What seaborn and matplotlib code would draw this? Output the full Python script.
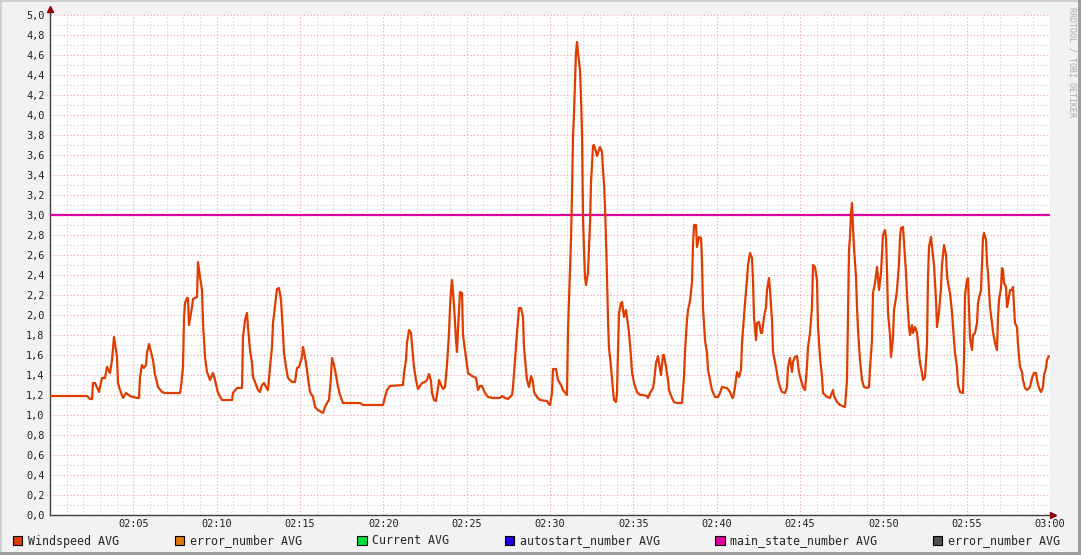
import matplotlib
matplotlib.use("Agg")
import matplotlib.pyplot as plt
from matplotlib.patches import Patch, Rectangle
import pandas as pd
import seaborn as sns

# Windspeed AVG: minutes after 02:00 and value
minutes = [0.00, 2.22, 2.40, 2.52, 2.58, 2.70, 2.94, 3.12, 3.30, 3.42, 3.60, 3.72, 3.84, 4.02, 4.08,
           4.20, 4.38, 4.56, 4.80, 5.22, 5.34, 5.40, 5.52, 5.64, 5.76, 5.82, 5.94, 6.06, 6.18, 6.30,
           6.42, 6.48, 6.72, 6.90, 7.80, 7.86, 7.98, 8.04, 8.10, 8.22, 8.28, 8.34, 8.52, 8.58, 8.82,
           8.88, 9.00, 9.12, 9.18, 9.30, 9.42, 9.60, 9.78, 9.90, 10.08, 10.32, 10.92, 10.98, 11.22,
           11.52, 11.58, 11.70, 11.82, 11.88, 12.00, 12.12, 12.18, 12.30, 12.48, 12.60, 12.72, 12.84,
           12.96, 13.08, 13.20, 13.32, 13.38, 13.62, 13.74, 13.86, 13.98, 14.04, 14.16, 14.28, 14.52,
           14.70, 14.82, 14.94, 15.12, 15.18, 15.30, 15.42, 15.48, 15.60, 15.78, 15.90, 16.08, 16.38,
           16.50, 16.62, 16.74, 16.86, 16.92, 17.04, 17.16, 17.28, 17.40, 17.58, 18.60, 18.78, 19.98,
           20.10, 20.22, 20.40, 21.18, 21.24, 21.36, 21.42, 21.54, 21.66, 21.72, 21.84, 21.96, 22.08,
           22.32, 22.50, 22.62, 22.74, 22.86, 22.92, 23.04, 23.16, 23.28, 23.34, 23.46, 23.58, 23.70,
           23.82, 23.94, 24.00, 24.06, 24.12, 24.24, 24.36, 24.42, 24.48, 24.60, 24.72, 24.78, 24.90,
           25.02, 25.08, 25.32, 25.56, 25.68, 25.80, 25.92, 26.10, 26.28, 26.58, 27.00, 27.12, 27.30,
           27.48, 27.72, 27.78, 27.90, 28.02, 28.14, 28.26, 28.38, 28.44, 28.56, 28.62, 28.74, 28.86,
           28.98, 29.04, 29.22, 29.40, 29.82, 29.88, 30.00, 30.12, 30.18, 30.36, 30.48, 30.66, 30.78,
           31.02, 31.08, 31.14, 31.26, 31.32, 31.38, 31.44, 31.50, 31.56, 31.62, 31.68, 31.80, 31.86,
           31.92, 31.98, 32.04, 32.10, 32.16, 32.28, 32.34, 32.40, 32.46, 32.52, 32.58, 32.64, 32.76,
           32.82, 32.94, 33.00, 33.12, 33.18, 33.24, 33.30, 33.36, 33.42, 33.48, 33.54, 33.66, 33.78,
           33.84, 33.96, 34.02, 34.08, 34.14, 34.26, 34.32, 34.44, 34.56, 34.62, 34.74, 34.86, 34.92,
           35.04, 35.22, 35.40, 35.58, 35.82, 35.88, 36.00, 36.18, 36.24, 36.36, 36.48, 36.54, 36.66,
           36.78, 36.84, 36.96, 37.08, 37.14, 37.32, 37.44, 37.62, 37.92, 38.04, 38.10, 38.22, 38.28,
           38.40, 38.52, 38.58, 38.64, 38.76, 38.82, 38.94, 39.06, 39.12, 39.18, 39.30, 39.42, 39.48,
           39.60, 39.72, 39.90, 40.08, 40.20, 40.32, 40.62, 40.80, 40.92, 40.98, 41.10, 41.22, 41.34,
           41.46, 41.52, 41.64, 41.70, 41.82, 41.88, 42.00, 42.12, 42.18, 42.24, 42.36, 42.42, 42.54,
           42.66, 42.72, 42.84, 42.96, 43.02, 43.14, 43.20, 43.32, 43.38, 43.50, 43.62, 43.68, 43.80,
           43.92, 44.10, 44.22, 44.28, 44.40, 44.52, 44.58, 44.70, 44.82, 44.94, 45.06, 45.18, 45.30,
           45.42, 45.48, 45.60, 45.72, 45.78, 45.90, 46.02, 46.08, 46.20, 46.32, 46.38, 46.62, 46.80,
           46.98, 47.04, 47.22, 47.40, 47.70, 47.82, 47.88, 47.94, 48.00, 48.06, 48.12, 48.18, 48.24,
           48.36, 48.42, 48.48, 48.60, 48.72, 48.84, 49.02, 49.14, 49.20, 49.32, 49.38, 49.50, 49.62,
           49.68, 49.74, 49.86, 49.92, 49.98, 50.10, 50.16, 50.22, 50.28, 50.40, 50.46, 50.58, 50.64,
           50.76, 50.82, 50.94, 51.00, 51.06, 51.18, 51.24, 51.36, 51.42, 51.54, 51.60, 51.72, 51.78,
           51.90, 52.02, 52.08, 52.20, 52.32, 52.38, 52.50, 52.62, 52.68, 52.74, 52.86, 52.92, 53.04,
           53.10, 53.16, 53.22, 53.34, 53.46, 53.52, 53.58, 53.64, 53.76, 53.82, 53.88, 54.00, 54.12,
           54.18, 54.30, 54.42, 54.48, 54.60, 54.78, 54.84, 54.90, 55.02, 55.08, 55.14, 55.20, 55.32,
           55.38, 55.50, 55.62, 55.68, 55.74, 55.86, 55.98, 56.04, 56.16, 56.22, 56.28, 56.40, 56.52,
           56.58, 56.70, 56.82, 56.88, 56.94, 57.06, 57.12, 57.18, 57.24, 57.36, 57.42, 57.48, 57.60,
           57.72, 57.78, 57.84, 57.90, 58.02, 58.08, 58.20, 58.32, 58.38, 58.50, 58.62, 58.80, 58.92,
           59.04, 59.16, 59.22, 59.34, 59.46, 59.58, 59.64, 59.76, 59.82, 59.94]

windspeed = [1.19, 1.19, 1.16, 1.16, 1.32, 1.32, 1.23, 1.37, 1.37, 1.48, 1.42, 1.55, 1.78, 1.58, 1.32,
             1.25, 1.17, 1.22, 1.19, 1.17, 1.17, 1.38, 1.50, 1.47, 1.50, 1.62, 1.71, 1.63, 1.55, 1.40,
             1.33, 1.28, 1.23, 1.22, 1.22, 1.28, 1.48, 1.97, 2.12, 2.17, 2.17, 1.90, 2.08, 2.16, 2.18,
             2.53, 2.38, 2.25, 1.92, 1.58, 1.43, 1.35, 1.42, 1.35, 1.22, 1.15, 1.15, 1.22, 1.27,
             1.27, 1.78, 1.95, 2.02, 1.88, 1.65, 1.52, 1.38, 1.33, 1.25, 1.23, 1.30, 1.32,
             1.28, 1.25, 1.48, 1.68, 1.92, 2.26, 2.27, 2.15, 1.82, 1.62, 1.48, 1.37, 1.33,
             1.33, 1.47, 1.48, 1.58, 1.68, 1.58, 1.45, 1.37, 1.23, 1.18, 1.08, 1.05, 1.02,
             1.08, 1.12, 1.15, 1.38, 1.57, 1.50, 1.40, 1.28, 1.20, 1.12, 1.12, 1.10, 1.10,
             1.18, 1.25, 1.29, 1.30, 1.42, 1.55, 1.72, 1.85, 1.82, 1.70, 1.48, 1.35, 1.26,
             1.32, 1.33, 1.35, 1.41, 1.34, 1.22, 1.15, 1.14, 1.27, 1.35, 1.30, 1.26, 1.28,
             1.50, 1.82, 2.07, 2.25, 2.35, 2.10, 1.75, 1.63, 1.85, 2.23, 2.22, 1.80, 1.65,
             1.50, 1.42, 1.39, 1.37, 1.25, 1.29, 1.29, 1.22, 1.18, 1.17, 1.17, 1.19, 1.17,
             1.16, 1.20, 1.28, 1.55, 1.82, 2.07, 2.07, 1.98, 1.68, 1.45, 1.35, 1.28, 1.39,
             1.33, 1.23, 1.18, 1.15, 1.14, 1.12, 1.10, 1.22, 1.46, 1.46, 1.35, 1.30, 1.25,
             1.20, 1.85, 2.15, 2.75, 3.22, 3.78, 4.02, 4.33, 4.63, 4.73, 4.63, 4.45, 4.18,
             3.82, 2.98, 2.65, 2.38, 2.30, 2.42, 2.68, 2.90, 3.32, 3.50, 3.69, 3.70, 3.63,
             3.59, 3.65, 3.68, 3.63, 3.45, 3.32, 3.08, 2.75, 2.38, 1.95, 1.67, 1.48, 1.25,
             1.15, 1.13, 1.22, 1.65, 2.02, 2.12, 2.13, 1.98, 2.05, 1.98, 1.82, 1.58, 1.43,
             1.32, 1.23, 1.20, 1.20, 1.19, 1.17, 1.22, 1.27, 1.33, 1.52, 1.59, 1.52, 1.40,
             1.60, 1.60, 1.48, 1.35, 1.25, 1.17, 1.13, 1.12, 1.12, 1.38, 1.63, 1.95, 2.05,
             2.14, 2.33, 2.70, 2.90, 2.90, 2.68, 2.78, 2.77, 2.55, 2.07, 1.75, 1.62, 1.45,
             1.35, 1.25, 1.18, 1.18, 1.22, 1.28, 1.27, 1.23, 1.18, 1.17, 1.28, 1.43, 1.38,
             1.45, 1.72, 1.98, 2.12, 2.35, 2.50, 2.62, 2.57, 2.35, 1.98, 1.75, 1.92, 1.93,
             1.82, 1.82, 1.98, 2.08, 2.25, 2.37, 2.25, 1.95, 1.63, 1.53, 1.42, 1.35, 1.28,
             1.23, 1.22, 1.28, 1.48, 1.57, 1.43, 1.53, 1.58, 1.59, 1.43, 1.35, 1.28, 1.25,
             1.48, 1.68, 1.82, 2.08, 2.50, 2.48, 2.35, 1.88, 1.58, 1.38, 1.22, 1.18, 1.17,
             1.25, 1.19, 1.13, 1.10, 1.08, 1.35, 2.02, 2.65, 2.78, 3.02, 3.12, 2.88, 2.67,
             2.38, 2.08, 1.85, 1.55, 1.35, 1.28, 1.27, 1.28, 1.47, 1.75, 2.22, 2.32, 2.48,
             2.38, 2.25, 2.42, 2.60, 2.80, 2.85, 2.77, 2.45, 2.02, 1.80, 1.58, 1.78, 2.05,
             2.17, 2.25, 2.52, 2.77, 2.87, 2.88, 2.73, 2.42, 2.20, 1.88, 1.80, 1.90, 1.82,
             1.88, 1.82, 1.72, 1.52, 1.42, 1.35, 1.38, 1.70, 2.38, 2.68, 2.78, 2.68, 2.50,
             2.32, 2.15, 1.88, 2.03, 2.27, 2.50, 2.60, 2.70, 2.60, 2.40, 2.32, 2.22, 2.03,
             1.88, 1.62, 1.48, 1.30, 1.23, 1.22, 1.57, 2.20, 2.35, 2.37, 2.08, 1.77, 1.65,
             1.80, 1.82, 1.92, 2.12, 2.17, 2.25, 2.77, 2.82, 2.75, 2.53, 2.42, 2.08, 1.92,
             1.83, 1.72, 1.65, 1.98, 2.15, 2.27, 2.47, 2.45, 2.32, 2.28, 2.08, 2.12, 2.25,
             2.25, 2.28, 2.08, 1.92, 1.88, 1.70, 1.48, 1.43, 1.35, 1.27, 1.25, 1.28, 1.37,
             1.42, 1.42, 1.35, 1.27, 1.23, 1.28, 1.40, 1.47, 1.55, 1.59]

# main_state_number AVG stays flat at 3.0 over the whole hour
main_state_minutes = [0, 60]
main_state = [3.0, 3.0]

legend_labels = ["Windspeed AVG", "error_number AVG", "Current AVG",
                 "autostart_number AVG", "main_state_number AVG", "error_number AVG"]
legend_colors = ["#E03C00", "#E07800", "#00E040", "#2000E0", "#E000A0", "#505050"]

x_ticks = [5, 10, 15, 20, 25, 30, 35, 40, 45, 50, 55, 60]
x_tick_labels = ["02:05", "02:10", "02:15", "02:20", "02:25", "02:30",
                 "02:35", "02:40", "02:45", "02:50", "02:55", "03:00"]

sns.set_style("white")
plt.rcParams['font.family'] = ['DejaVu Sans Mono', 'DejaVu Sans']

fig = plt.figure(figsize=(10.81, 5.55), dpi=100, facecolor="#F2F2F2")
ax = fig.add_axes([50 / 1081, 40 / 555, 1000 / 1081, 500 / 555])
ax.set_facecolor("white")

wind_df = pd.DataFrame({"minute": minutes, "value": windspeed})
state_df = pd.DataFrame({"minute": main_state_minutes, "value": main_state})
sns.lineplot(data=wind_df, x="minute", y="value", ax=ax, color=legend_colors[0],
             linewidth=1.6, estimator=None, sort=False, zorder=4)
sns.lineplot(data=state_df, x="minute", y="value", ax=ax, color=legend_colors[4],
             linewidth=1.6, estimator=None, sort=False, zorder=3)

ax.set_xlim(0, 60)
ax.set_ylim(0, 5)
ax.set_xticks(x_ticks)
ax.set_xticklabels(x_tick_labels)
ax.set_xticks([m for m in range(0, 61)], minor=True)
y_major = [i / 5 for i in range(26)]
ax.set_yticks(y_major)
ax.set_yticklabels([f"{v:.1f}".replace(".", ",") for v in y_major])
ax.set_yticks([i / 10 for i in range(51)], minor=True)

ax.grid(which="minor", color="#D0D0D0", linestyle=(0, (1, 2)), linewidth=0.8, zorder=0)
ax.grid(which="major", color="#E8A0A0", linestyle=(0, (1, 2)), linewidth=0.8, zorder=1)
ax.set_axisbelow(True)

ax.tick_params(axis="both", which="major", labelsize=7.4, colors="#202020", length=2,
               width=0.8, direction="out", pad=2)
ax.tick_params(axis="x", which="major", pad=1)
ax.tick_params(axis="both", which="minor", length=0)
ax.set_xlabel("")
ax.set_ylabel("")

for side in ["top", "right"]:
    ax.spines[side].set_visible(False)
for side in ["left", "bottom"]:
    ax.spines[side].set_color("#404040")
    ax.spines[side].set_linewidth(1.0)

# RRD style axis arrows
ax.plot([0, 0], [1.0, 1.012], transform=ax.transAxes, color="#404040", lw=1.0, clip_on=False)
ax.plot([0], [1.012], marker="^", markersize=4, color="#900000", transform=ax.transAxes,
        clip_on=False)
ax.plot([1.0, 1.003], [0, 0], transform=ax.transAxes, color="#404040", lw=1.0, clip_on=False)
ax.plot([1.003], [0], marker=">", markersize=4, color="#900000", transform=ax.transAxes,
        clip_on=False)

handles = [Patch(facecolor=c, edgecolor="black", linewidth=0.8) for c in legend_colors]
fig.legend(handles, legend_labels, loc="center left", bbox_to_anchor=(13 / 1081, 14 / 555),
           ncol=6, frameon=False, fontsize=8.4, handlelength=0.8, handleheight=0.8,
           handletextpad=0.5, columnspacing=4.75, borderpad=0, borderaxespad=0)

fig.text(1072 / 1081, 493 / 555, "RRDTOOL / TOBI OETIKER", rotation=270, ha="center",
         va="center", fontsize=6.0, color="#AAAAAA")

# image frame: light top/left edge, darker right/bottom edge
fig.patches.append(Rectangle((0, 553 / 555), 1, 2 / 555, transform=fig.transFigure,
                             facecolor="#CFCFCF", edgecolor="none"))
fig.patches.append(Rectangle((0, 0), 2 / 1081, 1, transform=fig.transFigure,
                             facecolor="#CFCFCF", edgecolor="none"))
fig.patches.append(Rectangle((1078 / 1081, 0), 3 / 1081, 1, transform=fig.transFigure,
                             facecolor="#9C9C9C", edgecolor="none"))
fig.patches.append(Rectangle((0, 0), 1, 3 / 555, transform=fig.transFigure,
                             facecolor="#9C9C9C", edgecolor="none"))

fig.savefig("out.png", dpi=100, facecolor=fig.get_facecolor())
